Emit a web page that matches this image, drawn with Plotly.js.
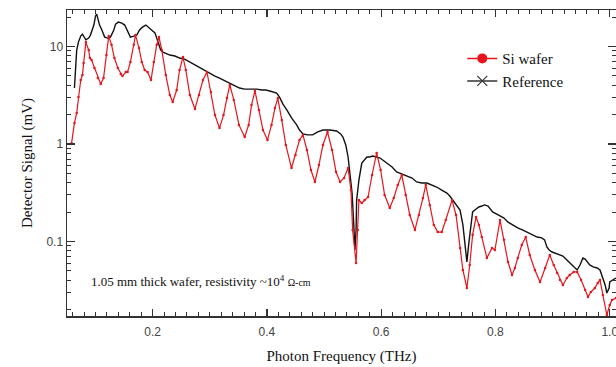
<!DOCTYPE html>
<html><head><meta charset="utf-8">
<script src="https://cdn.plot.ly/plotly-3.0.1.min.js"></script>
<style>html,body{margin:0;padding:0;background:#fff}#chart{width:616px;height:367px}</style>
</head><body><div id="chart"></div>
<script>
// Si wafer transmission (THz, mV)
const siFreq = [0.058,0.063,0.067,0.070,0.074,0.077,0.079,0.083,0.088,0.090,0.093,0.098,0.104,0.109,0.114,0.119,0.123,0.128,0.133,0.139,0.144,0.147,0.153,0.156,0.161,0.167,0.170,0.176,0.181,0.186,0.191,0.197,0.202,0.207,0.211,0.216,0.223,0.230,0.235,0.242,0.247,0.253,0.258,0.265,0.274,0.281,0.288,0.295,0.302,0.309,0.317,0.324,0.330,0.335,0.342,0.351,0.361,0.368,0.373,0.379,0.386,0.393,0.401,0.408,0.414,0.419,0.426,0.433,0.443,0.450,0.457,0.463,0.470,0.477,0.484,0.491,0.498,0.506,0.514,0.521,0.528,0.535,0.542,0.547,0.550,0.556,0.559,0.561,0.566,0.571,0.577,0.584,0.592,0.599,0.606,0.615,0.622,0.629,0.636,0.643,0.650,0.659,0.666,0.673,0.678,0.685,0.692,0.699,0.706,0.713,0.724,0.731,0.738,0.743,0.750,0.755,0.760,0.766,0.771,0.776,0.785,0.794,0.799,0.808,0.815,0.822,0.829,0.834,0.839,0.846,0.853,0.860,0.869,0.878,0.887,0.895,0.902,0.908,0.913,0.918,0.925,0.930,0.937,0.943,0.950,0.957,0.962,0.967,0.974,0.979,0.983,0.988,0.995,1.000,1.004,1.011];
const siSignal = [1.02,1.64,2.08,3.03,4.53,5.10,6.77,11.1,9.2,7.62,7.27,6.02,4.75,4.12,4.75,8.18,12.8,10.4,7.62,6.02,5.22,4.98,5.48,5.48,6.93,10.4,13.1,9.65,6.93,5.74,5.48,4.53,6.93,10.4,12.5,9.2,5.10,3.18,2.70,3.58,5.74,7.80,5.74,3.18,2.29,3.18,4.53,5.48,3.41,1.98,1.46,1.98,2.96,4.03,2.83,1.57,1.18,1.57,2.51,3.50,2.23,1.39,1.10,1.57,2.34,2.96,1.76,0.977,0.567,0.771,1.10,1.24,0.868,0.541,0.408,0.609,0.977,1.33,0.868,0.516,0.408,0.448,0.567,0.337,0.131,0.060,0.131,0.266,0.248,0.266,0.286,0.481,0.809,0.541,0.300,0.221,0.279,0.380,0.481,0.300,0.187,0.131,0.187,0.279,0.380,0.237,0.148,0.125,0.125,0.166,0.266,0.187,0.0858,0.0510,0.0333,0.0574,0.117,0.178,0.148,0.111,0.0677,0.0858,0.0818,0.166,0.104,0.0616,0.0453,0.0535,0.0677,0.092,0.111,0.0727,0.0510,0.0384,0.0535,0.0727,0.0574,0.0475,0.0403,0.0358,0.0422,0.0453,0.0487,0.0487,0.0403,0.0318,0.0270,0.0303,0.0333,0.0375,0.0403,0.0283,0.0176,0.0223,0.0251,0.0263];

// Reference (no wafer)
const refFreq = [0.063,0.065,0.067,0.070,0.074,0.077,0.083,0.088,0.091,0.097,0.100,0.102,0.107,0.111,0.116,0.121,0.126,0.132,0.135,0.140,0.146,0.151,0.156,0.161,0.167,0.172,0.177,0.182,0.188,0.193,0.198,0.204,0.209,0.214,0.218,0.225,0.230,0.239,0.247,0.256,0.265,0.274,0.282,0.291,0.300,0.309,0.317,0.323,0.331,0.338,0.345,0.352,0.361,0.370,0.382,0.391,0.398,0.405,0.412,0.417,0.422,0.428,0.435,0.443,0.452,0.457,0.463,0.471,0.480,0.489,0.498,0.510,0.522,0.529,0.533,0.538,0.542,0.545,0.549,0.552,0.554,0.556,0.557,0.561,0.566,0.575,0.580,0.585,0.592,0.598,0.605,0.610,0.619,0.627,0.636,0.645,0.654,0.662,0.671,0.680,0.689,0.697,0.706,0.715,0.720,0.725,0.731,0.738,0.743,0.746,0.750,0.753,0.757,0.760,0.764,0.771,0.776,0.781,0.787,0.795,0.808,0.815,0.822,0.830,0.839,0.848,0.855,0.864,0.873,0.881,0.886,0.890,0.894,0.899,0.904,0.911,0.918,0.925,0.930,0.934,0.939,0.943,0.948,0.953,0.957,0.962,0.965,0.971,0.978,0.983,0.988,0.992,0.995,0.999,1.000,1.006,1.011];
const refSignal = [3.75,5.74,9.2,11.1,12.8,13.4,11.7,12.2,13.1,16.6,20.6,21.5,16.6,14.8,12.5,12.2,12.5,14.8,17.0,17.8,17.4,16.6,14.4,12.5,12.8,13.1,14.8,15.8,16.6,15.8,14.8,13.8,11.1,9.2,8.78,8.38,8.18,7.99,7.62,7.44,6.93,6.46,6.16,5.74,5.35,4.98,4.75,4.53,4.32,4.12,3.93,3.75,3.66,3.66,3.66,3.58,3.58,3.50,3.41,3.33,3.03,2.57,2.23,1.85,1.57,1.39,1.27,1.24,1.24,1.33,1.39,1.39,1.36,1.27,1.18,0.977,0.736,0.516,0.314,0.148,0.0818,0.131,0.266,0.427,0.638,0.736,0.736,0.753,0.736,0.718,0.669,0.638,0.581,0.516,0.492,0.470,0.448,0.408,0.398,0.398,0.380,0.362,0.337,0.314,0.293,0.266,0.242,0.210,0.148,0.104,0.0616,0.092,0.148,0.201,0.210,0.226,0.231,0.237,0.231,0.201,0.183,0.174,0.158,0.148,0.138,0.131,0.125,0.117,0.111,0.109,0.104,0.0878,0.0818,0.0780,0.0762,0.0727,0.0710,0.0646,0.0602,0.0574,0.0535,0.0510,0.0574,0.0677,0.0661,0.0602,0.0574,0.0548,0.0535,0.0510,0.0422,0.0358,0.0296,0.0333,0.0384,0.0403,0.0422];

const seriesNames = ['Si wafer','Reference'];
const xTickVals = [0.2,0.4,0.6,0.8,1.0];
const xTickText = ['0.2','0.4','0.6','0.8','1.0'];
const yTickVals = [0.1,1,10];
const yTickText = ['0.1','1','10'];
const yMinorVals = [0.02,0.03,0.04,0.05,0.06,0.07,0.08,0.09,0.2,0.3,0.4,0.5,0.6,0.7,0.8,0.9,2,3,4,5,6,7,8,9,20];

const RED = '#e8141c';
const BLACK = '#111111';

const traces = [
  {x: refFreq, y: refSignal, type:'scatter', mode:'lines', line:{color:BLACK, width:1.4}, showlegend:false, hoverinfo:'skip'},
  {x: siFreq, y: siSignal, type:'scatter', mode:'lines+markers', line:{color:RED, width:1.2}, marker:{color:RED, size:2.5}, showlegend:false, hoverinfo:'skip'},
  {x:[null], y:[null], type:'scatter', mode:'lines+markers', name:seriesNames[0], line:{color:RED, width:1.5}, marker:{color:RED, size:10, symbol:'circle'}},
  {x:[null], y:[null], type:'scatter', mode:'lines+markers', name:seriesNames[1], line:{color:'#333', width:1.5}, marker:{symbol:'x-thin', size:10, line:{width:1.2, color:'#333'}}}
];

const axisFont = {family:'Liberation Sans, Arial, sans-serif', size:12, color:'#444'};
const titleFont = {family:'Liberation Serif, Times New Roman, serif', size:15, color:'#111'};

const layout = {
  width:616, height:367,
  margin:{l:67, r:0, t:10, b:51},
  paper_bgcolor:'#fff', plot_bgcolor:'#fff',
  showlegend:true,
  legend:{x:0.72, y:0.895, xanchor:'left', yanchor:'top', bgcolor:'rgba(0,0,0,0)',
          font:{family:'Liberation Serif, Times New Roman, serif', size:15, color:'#111'},
          tracegroupgap:0},
  xaxis:{
    type:'linear', range:[0.05,1.011],
    tickmode:'array', tickvals:xTickVals, ticktext:xTickText,
    ticks:'inside', ticklen:7, tickwidth:1.2, tickcolor:'#333',
    minor:{tickmode:'linear', tick0:0, dtick:0.02, ticks:'inside', ticklen:4, tickwidth:1, tickcolor:'#333', showgrid:false},
    showline:true, linecolor:'#333', linewidth:1.5, mirror:'ticks',
    showgrid:false, zeroline:false,
    tickfont:axisFont, ticklabelstandoff:4, ticklabeloverflow:'allow',
    title:{text:'Photon Frequency (THz)', font:titleFont, standoff:12}
  },
  yaxis:{
    type:'log', range:[Math.log10(0.0172), Math.log10(23.7)],
    tickmode:'array', tickvals:yTickVals, ticktext:yTickText,
    ticks:'inside', ticklen:8, tickwidth:1.2, tickcolor:'#333',
    minor:{tickmode:'array', tickvals:yMinorVals, ticks:'inside', ticklen:4, tickwidth:1, tickcolor:'#333', showgrid:false},
    showline:true, linecolor:'#333', linewidth:1.5, mirror:'ticks',
    showgrid:false, zeroline:false,
    tickfont:axisFont,
    title:{text:'Detector Signal (mV)', font:titleFont, standoff:10}
  },
  annotations:[{
    xref:'paper', yref:'paper', x:0.04, y:0.114, xanchor:'left', yanchor:'middle', showarrow:false,
    text:'1.05 mm thick wafer, resistivity ~10<sup>4</sup> <span style="font-size:10px">Ω-cm</span>',
    font:{family:'Liberation Serif, Times New Roman, serif', size:13, color:'#111'}
  }]
};

Plotly.newPlot('chart', traces, layout, {staticPlot:true, displayModeBar:false});
</script>
</body></html>
